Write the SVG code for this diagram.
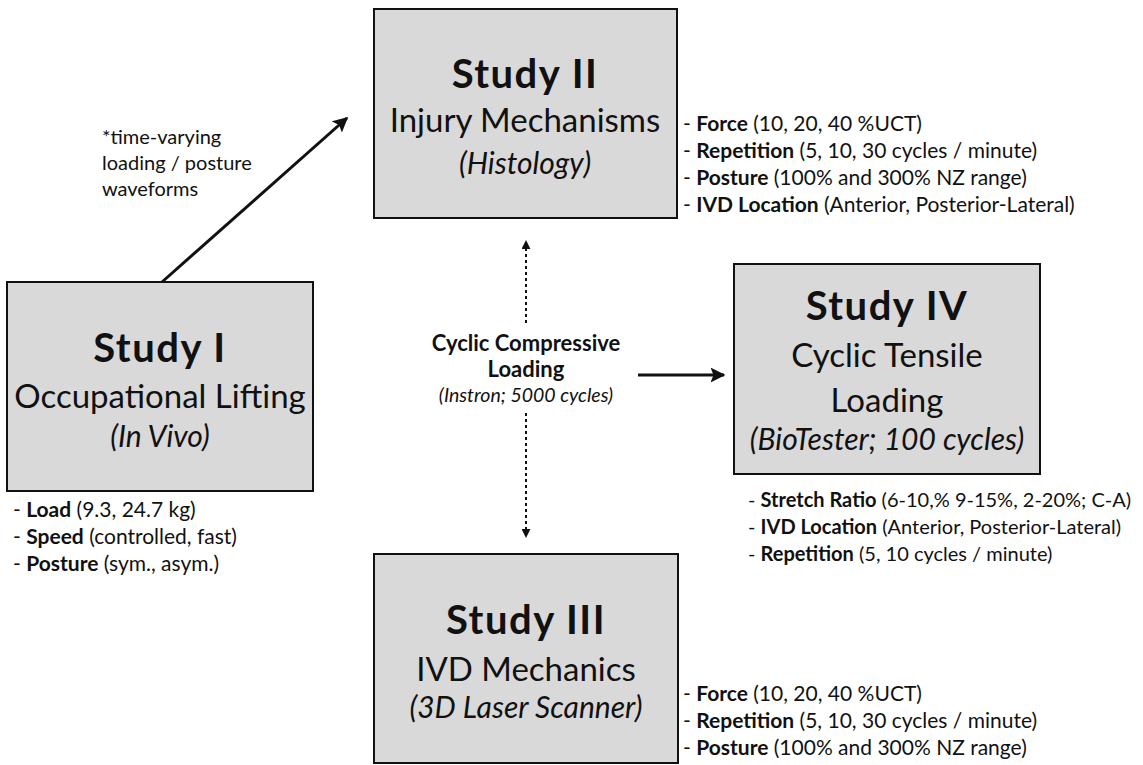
<svg xmlns="http://www.w3.org/2000/svg" width="1143" height="765" viewBox="0 0 1143 765">
<style>
text{font-family:Lato,"Open Sans","Liberation Sans",sans-serif;fill:#111}
.box{fill:#d9d9d9;stroke:#111;stroke-width:2}
.t{font-weight:bold;font-size:40px;letter-spacing:1.5px;text-anchor:middle}
.s{font-size:33px;text-anchor:middle}
.i{font-style:italic;font-size:30px;text-anchor:middle}
.b{font-size:21px}
.b4{font-size:20px}
.a{font-size:20px}
tspan.k{font-weight:bold}
.c{font-size:22px;text-anchor:middle}
.ci{font-size:19.5px;font-style:italic;text-anchor:middle}
.conn{stroke:#111;fill:none}
</style>
<defs>
<marker id="ah" viewBox="0 0 10 10" refX="9" refY="5" markerWidth="5" markerHeight="5" orient="auto" markerUnits="strokeWidth"><path d="M0,0 L10,5 L0,10 L2,5 z" fill="#111"/></marker>
<marker id="ahs" viewBox="0 0 10 10" refX="9" refY="5" markerWidth="4.5" markerHeight="4.5" orient="auto" markerUnits="strokeWidth"><path d="M0,0 L10,5 L0,10 z" fill="#111"/></marker>
</defs>
<rect width="1143" height="765" fill="#fff"/>
<g id="connectors">
<line class="conn" x1="162" y1="282" x2="347" y2="118" stroke-width="3" marker-end="url(#ah)"/>
<line class="conn" x1="638" y1="375" x2="724" y2="375" stroke-width="3" marker-end="url(#ah)"/>
<line class="conn" x1="526" y1="323" x2="526" y2="241" stroke-width="2" stroke-dasharray="3,3" marker-end="url(#ahs)"/>
<line class="conn" x1="526" y1="413" x2="526" y2="537" stroke-width="2" stroke-dasharray="3,3" marker-end="url(#ahs)"/>
</g>
<g id="annotation">
<text class="a" x="102" y="144">*time-varying</text>
<text class="a" x="102" y="170">loading / posture</text>
<text class="a" x="102" y="196">waveforms</text>
</g>
<g id="center-label">
<text class="c" x="526" y="351" font-weight="bold">Cyclic Compressive</text>
<text class="c" x="526" y="377" font-weight="bold">Loading</text>
<text class="ci" x="526" y="402">(Instron; 5000 cycles)</text>
</g>
<g id="study1">
<rect class="box" x="7" y="282" width="306" height="209"/>
<text class="t" x="160" y="362">Study I</text>
<text class="s" x="160" y="408">Occupational Lifting</text>
<text class="i" x="160" y="447">(In Vivo)</text>
<text class="b" x="13" y="517">- <tspan class="k">Load</tspan> (9.3, 24.7 kg)</text>
<text class="b" x="13" y="544">- <tspan class="k">Speed</tspan> (controlled, fast)</text>
<text class="b" x="13" y="571">- <tspan class="k">Posture</tspan> (sym., asym.)</text>
</g>
<g id="study2">
<rect class="box" x="374" y="9" width="303" height="209"/>
<text class="t" x="525" y="88">Study II</text>
<text class="s" x="525" y="132">Injury Mechanisms</text>
<text class="i" x="525" y="174">(Histology)</text>
<text class="b" x="683" y="131">- <tspan class="k">Force</tspan> (10, 20, 40 %UCT)</text>
<text class="b" x="683" y="158">- <tspan class="k">Repetition</tspan> (5, 10, 30 cycles / minute)</text>
<text class="b" x="683" y="185">- <tspan class="k">Posture</tspan> (100% and 300% NZ range)</text>
<text class="b" x="683" y="212">- <tspan class="k">IVD Location</tspan> (Anterior, Posterior-Lateral)</text>
</g>
<g id="study4">
<rect class="box" x="734" y="264" width="306" height="210"/>
<text class="t" x="887" y="320">Study IV</text>
<text class="s" x="887" y="367">Cyclic Tensile</text>
<text class="s" x="887" y="412">Loading</text>
<text class="i" x="887" y="450">(BioTester; 100 cycles)</text>
<text class="b4" x="748" y="507">- <tspan class="k">Stretch Ratio</tspan> (6-10,% 9-15%, 2-20%; C-A)</text>
<text class="b4" x="748" y="534">- <tspan class="k">IVD Location</tspan> (Anterior, Posterior-Lateral)</text>
<text class="b4" x="748" y="561">- <tspan class="k">Repetition</tspan> (5, 10 cycles / minute)</text>
</g>
<g id="study3">
<rect class="box" x="374" y="554" width="304" height="209"/>
<text class="t" x="526" y="634">Study III</text>
<text class="s" x="526" y="681">IVD Mechanics</text>
<text class="i" x="526" y="718">(3D Laser Scanner)</text>
<text class="b" x="683" y="701">- <tspan class="k">Force</tspan> (10, 20, 40 %UCT)</text>
<text class="b" x="683" y="728">- <tspan class="k">Repetition</tspan> (5, 10, 30 cycles / minute)</text>
<text class="b" x="683" y="755">- <tspan class="k">Posture</tspan> (100% and 300% NZ range)</text>
</g>
</svg>
